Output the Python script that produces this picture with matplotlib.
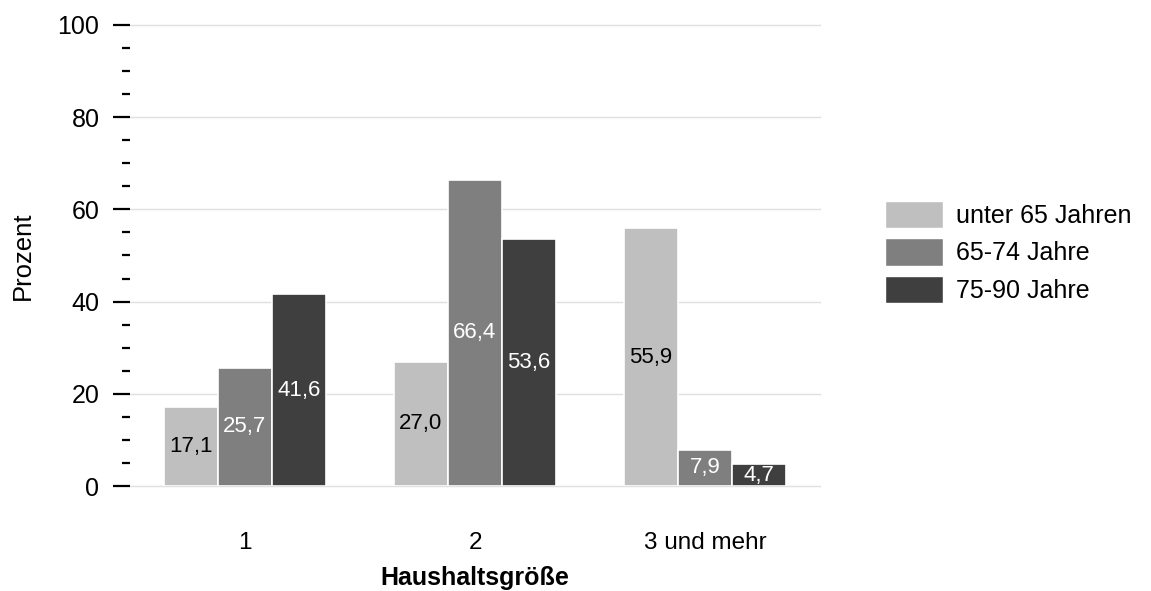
import matplotlib
matplotlib.use("Agg")
import matplotlib.pyplot as plt
import numpy as np
from matplotlib.ticker import MultipleLocator
from matplotlib.patches import Patch

categories = ["1", "2", "3 und mehr"]
series_names = ["unter 65 Jahren", "65-74 Jahre", "75-90 Jahre"]
unter65 = [17.1, 27.0, 55.9]
j65_74 = [25.7, 66.4, 7.9]
j75_90 = [41.6, 53.6, 4.7]
series = [unter65, j65_74, j75_90]
colors = ["#bfbfbf", "#7f7f7f", "#3f3f3f"]
label_colors = ["black", "white", "white"]
y_ticks = [0, 20, 40, 60, 80, 100]

plt.rcParams['font.family'] = ['Liberation Sans', 'DejaVu Sans']

fig = plt.figure(figsize=(11.51, 5.91), dpi=100)
W, H = 1151, 591
ax = fig.add_axes([130 / W, 1 - 486 / H, 690 / W, 461 / H])

x = np.arange(len(categories))
bw = 0.235
for i, (vals, c, lc) in enumerate(zip(series, colors, label_colors)):
    pos = x + (i - 1) * bw
    bars = ax.bar(pos, vals, width=bw, color=c, edgecolor="white", linewidth=1.2, zorder=3)
    for b, v in zip(bars, vals):
        ax.text(b.get_x() + b.get_width() / 2, v / 2, f"{v:.1f}".replace(".", ","),
                ha="center", va="center", color=lc, fontsize=16, zorder=4)

ax.set_xlim(-0.5, 2.5)
ax.set_ylim(0, 100)
ax.set_yticks(y_ticks)
ax.yaxis.set_minor_locator(MultipleLocator(5))
ax.set_xticks(x)
ax.set_xticklabels(categories, fontsize=17.5)
ax.tick_params(axis="x", length=0, pad=33)
ax.tick_params(axis="y", which="major", length=12, width=1.6, pad=10, labelsize=18)
ax.tick_params(axis="y", which="minor", length=6, width=1.6)
for s in ax.spines.values():
    s.set_visible(False)
ax.grid(axis="y", which="major", color="#e0e0e0", linewidth=1, zorder=0)
ax.set_axisbelow(True)
for gl in ax.get_ygridlines():
    gl.set_clip_on(False)

ax.set_ylabel("Prozent", fontsize=18.5, labelpad=16)
ax.set_xlabel("Haushaltsgröße", fontsize=18, fontweight="bold", labelpad=9)

handles = [Patch(facecolor=c, edgecolor="white") for c in colors]
leg = fig.legend(handles, series_names, loc="upper left", bbox_to_anchor=(885 / W, 1 - 201 / H),
                 frameon=False, fontsize=18, handlelength=2.3, handleheight=1.3,
                 handletextpad=0.55, labelspacing=0.4, borderaxespad=0, borderpad=0)

fig.savefig("out.png", dpi=100)
